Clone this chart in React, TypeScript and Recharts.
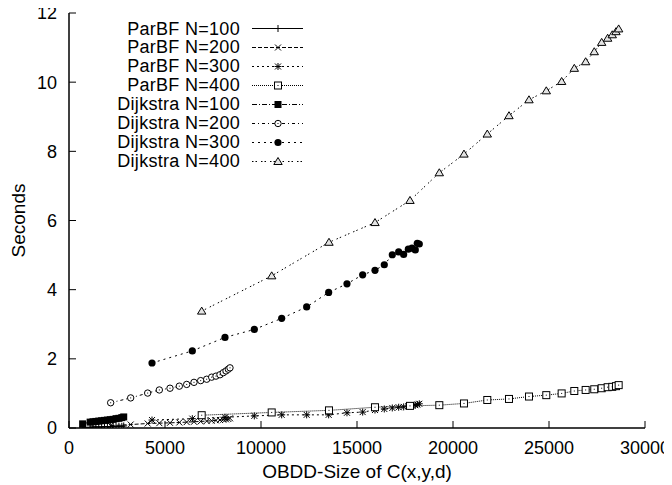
import { Legend, Line, LineChart, XAxis, YAxis } from "recharts";

// problem sizes (OBDD size of C(x,y,d)) per N
const sizes100 = [710, 1100, 1250, 1400, 1550, 1700, 1850, 2000, 2150, 2300, 2450, 2600, 2750, 2850];
const sizes200 = [2170, 3212, 4097, 4705, 5260, 5746, 6130, 6510, 6858, 7170, 7430, 7656, 7864, 8036, 8177, 8298, 8385];
const sizes300 = [4323, 6423, 8125, 9652, 11077, 12378, 13524, 14478, 15295, 15937, 16421, 16838, 17170, 17430, 17673, 17864, 18036, 18140, 18244];
const sizes400 = [6911, 10557, 13541, 15937, 17760, 19287, 20572, 21786, 22916, 23958, 24859, 25659, 26318, 26909, 27357, 27743, 28055, 28295, 28488, 28628];

// seconds
const parbf100 = [0.02, 0.02, 0.03, 0.03, 0.03, 0.03, 0.04, 0.04, 0.04, 0.04, 0.05, 0.05, 0.05, 0.06];
const parbf200 = [0.07, 0.1, 0.13, 0.14, 0.15, 0.16, 0.17, 0.18, 0.19, 0.2, 0.21, 0.22, 0.23, 0.24, 0.25, 0.26, 0.28];
const parbf300 = [0.23, 0.27, 0.31, 0.35, 0.38, 0.38, 0.38, 0.44, 0.46, 0.52, 0.55, 0.58, 0.6, 0.61, 0.63, 0.65, 0.66, 0.68, 0.7];
const parbf400 = [0.37, 0.45, 0.51, 0.6, 0.64, 0.66, 0.71, 0.81, 0.84, 0.91, 0.95, 1.0, 1.07, 1.1, 1.12, 1.15, 1.18, 1.19, 1.21, 1.24];
const dijkstra100 = [0.12, 0.17, 0.18, 0.19, 0.2, 0.21, 0.22, 0.23, 0.24, 0.25, 0.27, 0.28, 0.3, 0.32];
const dijkstra200 = [0.73, 0.87, 1.01, 1.1, 1.15, 1.21, 1.26, 1.32, 1.37, 1.41, 1.47, 1.5, 1.54, 1.6, 1.65, 1.7, 1.74];
const dijkstra300 = [1.88, 2.23, 2.62, 2.85, 3.17, 3.5, 3.92, 4.17, 4.43, 4.56, 4.72, 5.01, 5.09, 5.02, 5.17, 5.2, 5.15, 5.34, 5.32];
const dijkstra400 = [3.38, 4.4, 5.37, 5.94, 6.58, 7.38, 7.92, 8.5, 9.03, 9.49, 9.75, 10.02, 10.4, 10.59, 10.88, 11.15, 11.27, 11.37, 11.46, 11.54];

const xTicks = [0, 5000, 10000, 15000, 20000, 25000, 30000];
const yTicks = [0, 2, 4, 6, 8, 10, 12];

const FONT = "'Liberation Sans', Arial, Helvetica, sans-serif";
const FS = 18;
const FS_LABEL = 19;

type MarkerKind = "plus" | "cross" | "star" | "square" | "fsquare" | "circle" | "fcircle" | "triangle";

function toPoints(xs: number[], ys: number[]) {
  return xs.map((x, i) => ({ x, y: ys[i] }));
}

const series: { name: string; data: { x: number; y: number }[]; dash?: string; marker: MarkerKind }[] = [
  { name: "ParBF N=100", data: toPoints(sizes100, parbf100), marker: "plus" },
  { name: "ParBF N=200", data: toPoints(sizes200, parbf200), dash: "4 2", marker: "cross" },
  { name: "ParBF N=300", data: toPoints(sizes300, parbf300), dash: "2 3", marker: "star" },
  { name: "ParBF N=400", data: toPoints(sizes400, parbf400), dash: "1 1", marker: "square" },
  { name: "Dijkstra N=100", data: toPoints(sizes100, dijkstra100), dash: "5 2 1 2", marker: "fsquare" },
  { name: "Dijkstra N=200", data: toPoints(sizes200, dijkstra200), dash: "3 3 1 3", marker: "circle" },
  { name: "Dijkstra N=300", data: toPoints(sizes300, dijkstra300), dash: "2 4", marker: "fcircle" },
  { name: "Dijkstra N=400", data: toPoints(sizes400, dijkstra400), dash: "1.5 2 1.5 4", marker: "triangle" },
];

function Marker({ kind, cx, cy }: { kind: MarkerKind; cx: number; cy: number }) {
  const s = 3.5;
  const ln = { stroke: "#000", strokeWidth: 1 };
  switch (kind) {
    case "plus":
      return (
        <g {...ln}>
          <line x1={cx - s} x2={cx + s} y1={cy} y2={cy} />
          <line x1={cx} x2={cx} y1={cy - s} y2={cy + s} />
        </g>
      );
    case "cross":
      return (
        <g {...ln}>
          <line x1={cx - 3} x2={cx + 3} y1={cy - 3} y2={cy + 3} />
          <line x1={cx - 3} x2={cx + 3} y1={cy + 3} y2={cy - 3} />
        </g>
      );
    case "star":
      return (
        <g {...ln}>
          <line x1={cx - 3} x2={cx + 3} y1={cy - 3} y2={cy + 3} />
          <line x1={cx - 3} x2={cx + 3} y1={cy + 3} y2={cy - 3} />
          <line x1={cx - s} x2={cx + s} y1={cy} y2={cy} />
          <line x1={cx} x2={cx} y1={cy - s} y2={cy + s} />
        </g>
      );
    case "square":
      return (
        <g>
          <rect x={cx - 3.5} y={cy - 3.5} width={7} height={7} fill="#fff" {...ln} />
          <rect x={cx - 0.5} y={cy - 0.5} width={1} height={1} fill="#000" />
        </g>
      );
    case "fsquare":
      return <rect x={cx - 3.5} y={cy - 3.5} width={7} height={7} fill="#000" />;
    case "circle":
      return (
        <g>
          <circle cx={cx} cy={cy} r={3.2} fill="#fff" {...ln} />
          <rect x={cx - 0.5} y={cy - 0.5} width={1} height={1} fill="#000" />
        </g>
      );
    case "fcircle":
      return <circle cx={cx} cy={cy} r={3.6} fill="#000" />;
    case "triangle":
      return (
        <polygon
          points={`${cx},${cy - 4} ${cx + 4.2},${cy + 3} ${cx - 4.2},${cy + 3}`}
          fill="#e4e4e4"
          {...ln}
        />
      );
  }
}

function LegendBox() {
  return (
    <div style={{ position: "absolute", left: 90, top: 19.5, fontFamily: FONT, fontSize: FS, color: "#000" }}>
      {series.map((s) => (
        <div key={s.name} style={{ display: "flex", alignItems: "center", height: 18.9 }}>
          <span style={{ width: 150, textAlign: "right", whiteSpace: "nowrap", lineHeight: "18.9px", letterSpacing: 0.3 }}>
            {s.name}
          </span>
          <svg width={63} height={19} style={{ display: "block" }}>
            <line x1={12} x2={63} y1={9.5} y2={9.5} stroke="#000" strokeWidth={1} strokeDasharray={s.dash} />
            <Marker kind={s.marker} cx={38} cy={9.5} />
          </svg>
        </div>
      ))}
    </div>
  );
}

const tickStyle = { fill: "#000", fontSize: FS, fontFamily: FONT };
const axisLine = { stroke: "#000", strokeWidth: 1.5 };

export default function App() {
  return (
    <div style={{ marginLeft: -8, marginTop: -8, width: 672, height: 485, background: "#fff", position: "relative" }}>
      <LineChart width={672} height={485} margin={{ top: 13, right: 27, bottom: 7, left: 9 }}>
        <XAxis
          xAxisId="b"
          dataKey="x"
          type="number"
          domain={[0, 30000]}
          ticks={xTicks}
          interval={0}
          allowDataOverflow
          height={50}
          tickSize={-7}
          tickMargin={20}
          axisLine={axisLine}
          tickLine={{ stroke: "#000" }}
          tick={tickStyle}
          label={{ value: "OBDD-Size of C(x,y,d)", position: "insideBottom", offset: 0, fill: "#000", fontSize: FS_LABEL, fontFamily: FONT }}
        />
        <XAxis
          xAxisId="t"
          orientation="top"
          type="number"
          domain={[0, 30000]}
          ticks={xTicks}
          interval={0}
          allowDataOverflow
          height={0}
          tickSize={-7}
          axisLine={axisLine}
          tickLine={{ stroke: "#000" }}
          tick={false}
        />
        <YAxis
          yAxisId="l"
          type="number"
          domain={[0, 12]}
          ticks={yTicks}
          interval={0}
          allowDataOverflow
          width={60}
          tickSize={-7}
          tickMargin={19}
          axisLine={axisLine}
          tickLine={{ stroke: "#000" }}
          tick={tickStyle}
          label={{ value: "Seconds", angle: -90, position: "insideLeft", offset: 9, fill: "#000", fontSize: FS_LABEL, fontFamily: FONT, style: { textAnchor: "middle" } }}
        />
        <YAxis
          yAxisId="r"
          orientation="right"
          type="number"
          domain={[0, 12]}
          ticks={yTicks}
          interval={0}
          allowDataOverflow
          width={0}
          tickSize={-7}
          axisLine={axisLine}
          tickLine={{ stroke: "#000" }}
          tick={false}
        />
        <Legend layout="vertical" align="center" verticalAlign="middle" wrapperStyle={{ left: 0, top: 0, width: 672, height: 0 }} content={() => <LegendBox />} />
        {series.map((s) => (
          <Line
            key={s.name}
            xAxisId="b"
            yAxisId="l"
            data={s.data}
            dataKey="y"
            name={s.name}
            type="linear"
            stroke="#000"
            strokeWidth={1}
            strokeDasharray={s.dash}
            isAnimationActive={false}
            activeDot={false}
            dot={(p: any) => <Marker key={`${s.name}-${p.index}`} kind={s.marker} cx={p.cx} cy={p.cy} />}
          />
        ))}
      </LineChart>
    </div>
  );
}
